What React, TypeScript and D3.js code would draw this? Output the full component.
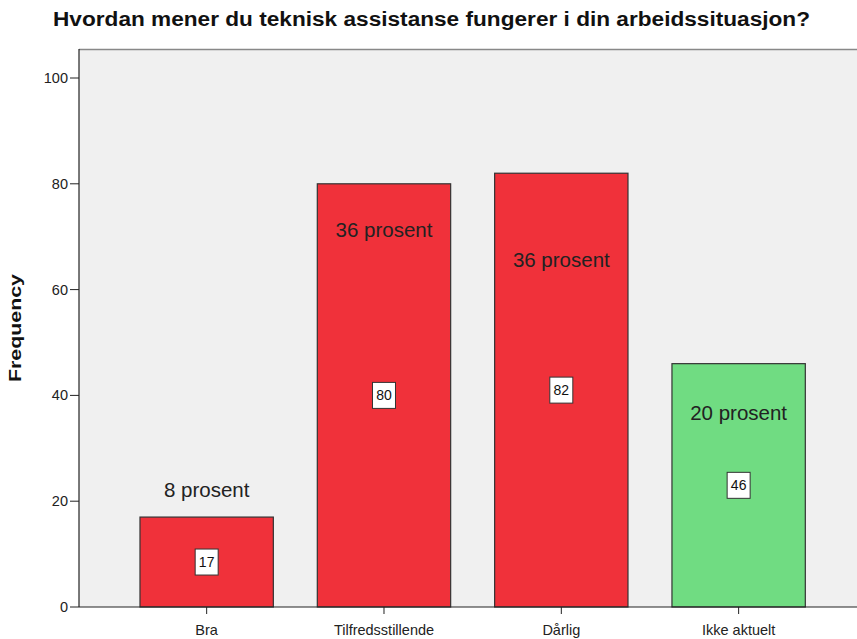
import React from 'react';
import * as d3 from 'd3';

// data
const categories = ['Bra', 'Tilfredsstillende', 'Dårlig', 'Ikke aktuelt'];
const frequencies = [17, 80, 82, 46];
const percentLabels = ['8 prosent', '36 prosent', '36 prosent', '20 prosent'];
const percentLabelY = [22.1, 71.3, 65.6, 36.7]; // where the annotation sits, in frequency units
const barColors = ['#f0313a', '#f0313a', '#f0313a', '#70dc82'];
const yTicks = [0, 20, 40, 60, 80, 100];

const W = 857;
const H = 639;

export default function App() {
  const left = 79;
  const top = 49;
  const bottom = 607;

  const y = d3.scaleLinear().domain([0, 100]).range([bottom, 78]);
  const x = d3
    .scaleBand<string>()
    .domain(categories)
    .range([118, 827.3])
    .paddingInner(0.248)
    .paddingOuter(0.124);

  const font = 'Arial, "Liberation Sans", sans-serif';

  return (
    <svg width={W} height={H} style={{ position: 'absolute', left: 0, top: 0 }} fontFamily={font}>
      <rect x={0} y={0} width={W} height={H} fill="#fff" />
      <text
        x={53}
        y={26}
        fontSize={19.5}
        fontWeight="bold"
        fill="#111"
        textLength={757}
        lengthAdjust="spacingAndGlyphs"
      >
        Hvordan mener du teknisk assistanse fungerer i din arbeidssituasjon?
      </text>

      {/* plot background */}
      <rect x={left} y={top} width={W - left} height={bottom - top} fill="#f0f0f0" />
      <line x1={left} x2={W} y1={top + 0.5} y2={top + 0.5} stroke="#888" strokeWidth={1.5} />

      {/* bars */}
      {categories.map((c, i) => {
        const bx = x(c)!;
        const bw = x.bandwidth();
        const cx = bx + bw / 2;
        const by = y(frequencies[i]);
        const my = y(frequencies[i] / 2);
        return (
          <g key={c}>
            <rect x={bx} y={by} width={bw} height={bottom - by} fill={barColors[i]} stroke="#333" strokeWidth={1.2} />
            <text x={cx} y={y(percentLabelY[i])} dy="0.36em" textAnchor="middle" fontSize={20.5} fill="#222">
              {percentLabels[i]}
            </text>
            <rect x={cx - 11.5} y={my - 13} width={23} height={26} fill="#fff" stroke="#333" strokeWidth={1} />
            <text x={cx} y={my} dy="0.36em" textAnchor="middle" fontSize={14} fill="#111">
              {frequencies[i]}
            </text>
          </g>
        );
      })}

      {/* axes */}
      <line x1={left} x2={left} y1={top} y2={bottom} stroke="#222" strokeWidth={1.2} />
      <line x1={left} x2={W} y1={bottom} y2={bottom} stroke="#222" strokeWidth={1.2} />
      {yTicks.map((t) => (
        <g key={t}>
          <line x1={left - 9} x2={left} y1={y(t)} y2={y(t)} stroke="#222" />
          <text x={left - 11} y={y(t)} dy="0.35em" textAnchor="end" fontSize={14.5} fill="#222">
            {t}
          </text>
        </g>
      ))}
      {categories.map((c) => {
        const cx = x(c)! + x.bandwidth() / 2;
        return (
          <g key={c}>
            <line x1={cx} x2={cx} y1={bottom} y2={bottom + 7} stroke="#222" />
            <text x={cx} y={635} textAnchor="middle" fontSize={14.5} fill="#222">
              {c}
            </text>
          </g>
        );
      })}

      <text
        transform={`translate(21,328) rotate(-90)`}
        textAnchor="middle"
        fontSize={17}
        fontWeight="bold"
        fill="#111"
        textLength={108}
        lengthAdjust="spacingAndGlyphs"
      >
        Frequency
      </text>
    </svg>
  );
}
